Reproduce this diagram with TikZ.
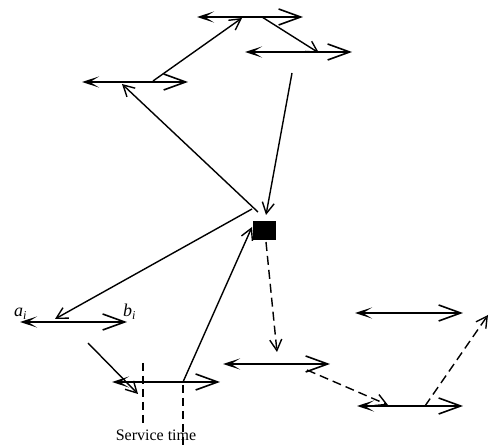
\documentclass[tikz,border=0pt]{standalone}
\usepackage{fontspec}
\setmainfont{Liberation Serif}
\usetikzlibrary{arrows.meta}
\begin{document}
\begin{tikzpicture}[x=1pt,y=-1pt,
  win/.style={line width=1.6pt,{Stealth[length=17pt,width=11pt,inset=9pt]}-{Straight Barb[length=22pt,width=16pt,line width=1.6pt]}},
  conn/.style={line width=1.4pt,-{Straight Barb[length=11pt,width=12pt,line width=1.4pt]}},
  dconn/.style={conn,dash pattern=on 9pt off 5pt},
  vdash/.style={line width=1.3pt,dash pattern=on 8pt off 5pt},
  depot/.style={fill=black,draw=black,minimum width=22pt,minimum height=18pt,inner sep=0pt}]
\useasboundingbox (0,0) rectangle (491,446);
% time windows
\coordinate (w1a) at (197,17);  \coordinate (w1b) at (303,17);
\coordinate (w2a) at (245,52);  \coordinate (w2b) at (352,52);
\coordinate (w3a) at (82,82);   \coordinate (w3b) at (188,82);
\coordinate (w4a) at (20,322);  \coordinate (w4b) at (127,322);
\coordinate (w5a) at (112,382); \coordinate (w5b) at (220,382);
\coordinate (w6a) at (223,364); \coordinate (w6b) at (330,364);
\coordinate (w7a) at (357,406); \coordinate (w7b) at (463,406);
\coordinate (w8a) at (355,313); \coordinate (w8b) at (463,313);
\foreach \w in {1,...,8} \draw[win] (w\w a) -- (w\w b);
% depot
\node[depot] (dep) at (264.5,230.5) {};
% attach points
\coordinate (p1) at (153,81);  \coordinate (q1) at (242,18);
\coordinate (p2) at (262,17);  \coordinate (q2) at (319,53);
\coordinate (p3) at (292,73);  \coordinate (q3) at (266,215);
\coordinate (p4) at (258,212); \coordinate (q4) at (122,84);
\coordinate (p5) at (252,209); \coordinate (q5) at (55,319);
\coordinate (p6) at (88,343);  \coordinate (q6) at (138,394);
\coordinate (p7) at (183,382); \coordinate (q7) at (252,227);
\coordinate (p8) at (266,242); \coordinate (q8) at (277,352);
\coordinate (p9) at (307,370); \coordinate (q9) at (388,405);
\coordinate (p10) at (425,406); \coordinate (q10) at (488,315);
\draw[conn] (p1) -- (q1);
\draw[conn] (p2) -- (q2);
\draw[conn] (p3) -- (q3);
\draw[conn] (p4) -- (q4);
\draw[conn] (p5) -- (q5);
\draw[conn] (p6) -- (q6);
\draw[conn] (p7) -- (q7);
\draw[dconn] (p8) -- (q8);
\draw[dconn] (p9) -- (q9);
\draw[dconn] (p10) -- (q10);
% service time markers
\coordinate (s1a) at (143,363); \coordinate (s1b) at (143,427);
\coordinate (s2a) at (183,385); \coordinate (s2b) at (183,446);
\draw[vdash] (s1a) -- (s1b);
\draw[vdash] (s2a) -- (s2b);
\node[font=\fontsize{16}{18}\selectfont,inner sep=0pt,anchor=base] (st) at (156,441) {Service time};
\node[font=\fontsize{18}{20}\selectfont,inner sep=0pt,anchor=base west] (ai) at (14,317) {\textit{a}\raisebox{-0.35ex}{\fontsize{12}{13}\selectfont\textit{i}}};
\node[font=\fontsize{18}{20}\selectfont,inner sep=0pt,anchor=base west] (bi) at (123,317) {\textit{b}\raisebox{-0.35ex}{\fontsize{12}{13}\selectfont\textit{i}}};
\end{tikzpicture}
\end{document}
